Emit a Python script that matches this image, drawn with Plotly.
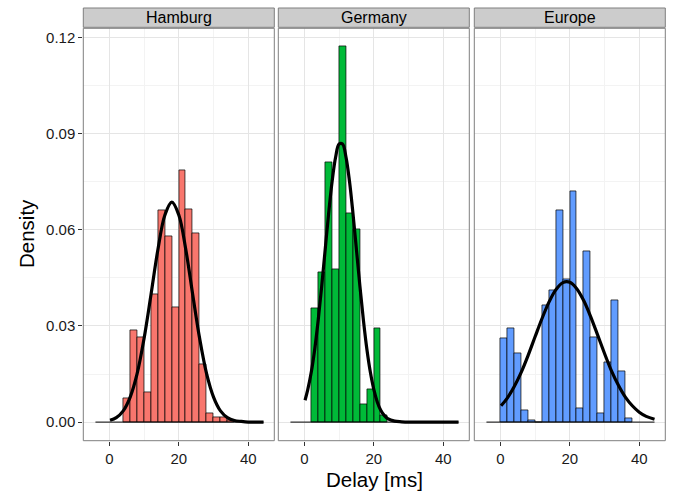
import plotly.graph_objects as go

# ---------------- data ----------------
panels = ["Hamburg", "Germany", "Europe"]
colors = ["#F8766D", "#00BA38", "#619CFF"]
bin_width = 2

hamburg_bin_left = [4, 6, 8, 10, 12, 14, 16, 18, 20, 22, 24, 26, 28, 30, 32, 34]
hamburg_density = [0.0073, 0.0287, 0.0266, 0.0094, 0.0399, 0.0662, 0.0580, 0.0358,
                   0.0784, 0.0665, 0.0590, 0.0179, 0.0026, 0.0015, 0.0015, 0.0006]

germany_bin_left = [2, 4, 6, 8, 10, 12, 14, 16, 18, 20, 22]
germany_density = [0.0355, 0.0468, 0.0811, 0.0475, 0.1172, 0.0650, 0.0600,
                   0.0056, 0.0103, 0.0292, 0.0022]

europe_bin_left = [0, 2, 4, 6, 8, 10, 12, 14, 16, 18, 20, 22, 24, 26, 28, 30, 32, 34, 36]
europe_density = [0.0262, 0.0293, 0.0215, 0.0036, 0.0006, 0.0, 0.0365, 0.0410, 0.0659,
                  0.0444, 0.0720, 0.0044, 0.0533, 0.0263, 0.0026, 0.0186, 0.0381,
                  0.0159, 0.0012]

# fitted density curves
hamburg_curve_x = [0.2, 2, 4, 6, 8, 10, 12, 14, 16, 18, 20, 22, 24, 26, 28, 30, 32, 34, 36, 38, 40, 42, 44.4]
hamburg_curve_y = [0.0006, 0.0014, 0.0035, 0.0078, 0.0151, 0.0261, 0.0398, 0.0539, 0.0646,
                   0.0686, 0.0646, 0.0539, 0.0398, 0.0261, 0.0151, 0.0078, 0.0035, 0.0014,
                   0.0005, 0.0002, 0.0000, 0.0000, 0.0000]

germany_curve_x = [0.2, 1, 2, 3, 4, 5, 6, 7, 8, 9, 10, 11, 12, 13, 14, 15, 16, 17, 18, 19,
                   20, 21, 22, 23, 24, 26, 28, 30, 34, 38, 44.4]
germany_curve_y = [0.0068, 0.0102, 0.0156, 0.0228, 0.0319, 0.0424, 0.0538, 0.0651, 0.0751,
                   0.0826, 0.0867, 0.0867, 0.0826, 0.0751, 0.0651, 0.0538, 0.0424, 0.0319,
                   0.0228, 0.0156, 0.0102, 0.0063, 0.0037, 0.0021, 0.0011, 0.0003, 0.0001,
                   0.0000, 0.0000, 0.0000, 0.0000]

europe_curve_x = [0.2, 2, 4, 6, 8, 10, 12, 14, 16, 18, 20, 22, 24, 26, 28, 30, 32, 34, 36,
                  38, 40, 42, 44.4]
europe_curve_y = [0.0051, 0.0075, 0.0111, 0.0155, 0.0208, 0.0266, 0.0323, 0.0374, 0.0413,
                  0.0435, 0.0436, 0.0416, 0.0379, 0.0329, 0.0272, 0.0214, 0.0160, 0.0115,
                  0.0078, 0.0051, 0.0031, 0.0018, 0.0009]

baseline_x = [-4, 44.4]

x_ticks = [0, 20, 40]
y_ticks = [0.00, 0.03, 0.06, 0.09, 0.12]

bin_lefts = [hamburg_bin_left, germany_bin_left, europe_bin_left]
densities = [hamburg_density, germany_density, europe_density]
curves_x = [hamburg_curve_x, germany_curve_x, europe_curve_x]
curves_y = [hamburg_curve_y, germany_curve_y, europe_curve_y]

# ---------------- figure ----------------
W, H = 675, 493
x_domains = [[83.3 / W, 274.3 / W], [278.3 / W, 469.3 / W], [474.3 / W, 665.3 / W]]
y_domain = [(H - 440.7) / H, (H - 28.3) / H]

fig = go.Figure()
font_family = "Liberation Sans, Arial, sans-serif"
tick_size = 15
strip_size = 16
title_size = 20.5

for i in range(3):
    xa = "x" if i == 0 else f"x{i+1}"
    ya = "y" if i == 0 else f"y{i+1}"
    # baseline of histogram
    fig.add_trace(go.Scatter(x=baseline_x, y=[0, 0], mode="lines",
                             line=dict(color="black", width=1),
                             xaxis=xa, yaxis=ya, showlegend=False, hoverinfo="skip"))
    centers = [b + bin_width / 2 for b in bin_lefts[i]]
    fig.add_trace(go.Bar(x=centers, y=densities[i], width=bin_width,
                         marker=dict(color=colors[i], line=dict(color="black", width=0.7)),
                         xaxis=xa, yaxis=ya, showlegend=False))
    fig.add_trace(go.Scatter(x=curves_x[i], y=curves_y[i], mode="lines",
                             line=dict(color="black", width=3.2, shape="spline"),
                             xaxis=xa, yaxis=ya, showlegend=False))

layout = dict(
    width=W, height=H,
    margin=dict(l=0, r=0, t=0, b=0),
    paper_bgcolor="white", plot_bgcolor="white",
    bargap=0, showlegend=False,
    font=dict(family=font_family, color="black"),
)

for i in range(3):
    xk = "xaxis" if i == 0 else f"xaxis{i+1}"
    yk = "yaxis" if i == 0 else f"yaxis{i+1}"
    ya = "y" if i == 0 else f"y{i+1}"
    layout[xk] = dict(
        domain=x_domains[i], anchor=ya, range=[-7.5, 47.5],
        tickvals=x_ticks, ticks="outside", ticklen=4, tickcolor="#333333",
        tickfont=dict(size=tick_size, color="#1a1a1a", family=font_family),
        showgrid=True, gridcolor="#E5E5E5", gridwidth=1, zeroline=False,
        minor=dict(dtick=10, tick0=0, showgrid=True, gridcolor="#F3F3F3", ticks=""),
        showline=False, automargin=False,
    )
    layout[yk] = dict(
        domain=y_domain, anchor="x" if i == 0 else f"x{i+1}",
        range=[-0.0058, 0.1228],
        tickvals=y_ticks, tickformat=".2f",
        ticks="outside" if i == 0 else "", ticklen=4, tickcolor="#333333",
        showticklabels=(i == 0),
        tickfont=dict(size=tick_size, color="#1a1a1a", family=font_family),
        showgrid=True, gridcolor="#E5E5E5", gridwidth=1, zeroline=False,
        minor=dict(dtick=0.015, tick0=0, showgrid=True, gridcolor="#F3F3F3", ticks=""),
        showline=False, automargin=False,
    )
    if i > 0:
        layout[yk]["matches"] = "y"

shapes = []
annotations = []
strip_y0 = (H - 27.3) / H
strip_y1 = (H - 8) / H
for i in range(3):
    xr = "x domain" if i == 0 else f"x{i+1} domain"
    yr = "y domain" if i == 0 else f"y{i+1} domain"
    shapes.append(dict(type="rect", xref=xr, yref=yr, x0=0, x1=1, y0=0, y1=1,
                       line=dict(color="#7F7F7F", width=1), fillcolor="rgba(0,0,0,0)",
                       layer="above"))
    shapes.append(dict(type="rect", xref=xr, yref="paper", x0=0, x1=1,
                       y0=strip_y0, y1=strip_y1,
                       line=dict(color="#7F7F7F", width=1), fillcolor="#CCCCCC"))
    annotations.append(dict(text=panels[i], xref=xr, yref="paper", x=0.5,
                            y=(strip_y0 + strip_y1) / 2, showarrow=False,
                            xanchor="center", yanchor="middle",
                            font=dict(size=strip_size, color="black", family=font_family)))

annotations.append(dict(text="Delay [ms]", xref="paper", yref="paper",
                        x=(83.3 + 665.3) / 2 / W, y=(H - 479) / H, showarrow=False,
                        xanchor="center", yanchor="middle",
                        font=dict(size=title_size, color="black", family=font_family)))
annotations.append(dict(text="Density", xref="paper", yref="paper",
                        x=26 / W, y=(H - 234) / H, showarrow=False, textangle=-90,
                        xanchor="center", yanchor="middle",
                        font=dict(size=title_size, color="black", family=font_family)))

layout["shapes"] = shapes
layout["annotations"] = annotations
fig.update_layout(**layout)

fig.write_html("out.html")
